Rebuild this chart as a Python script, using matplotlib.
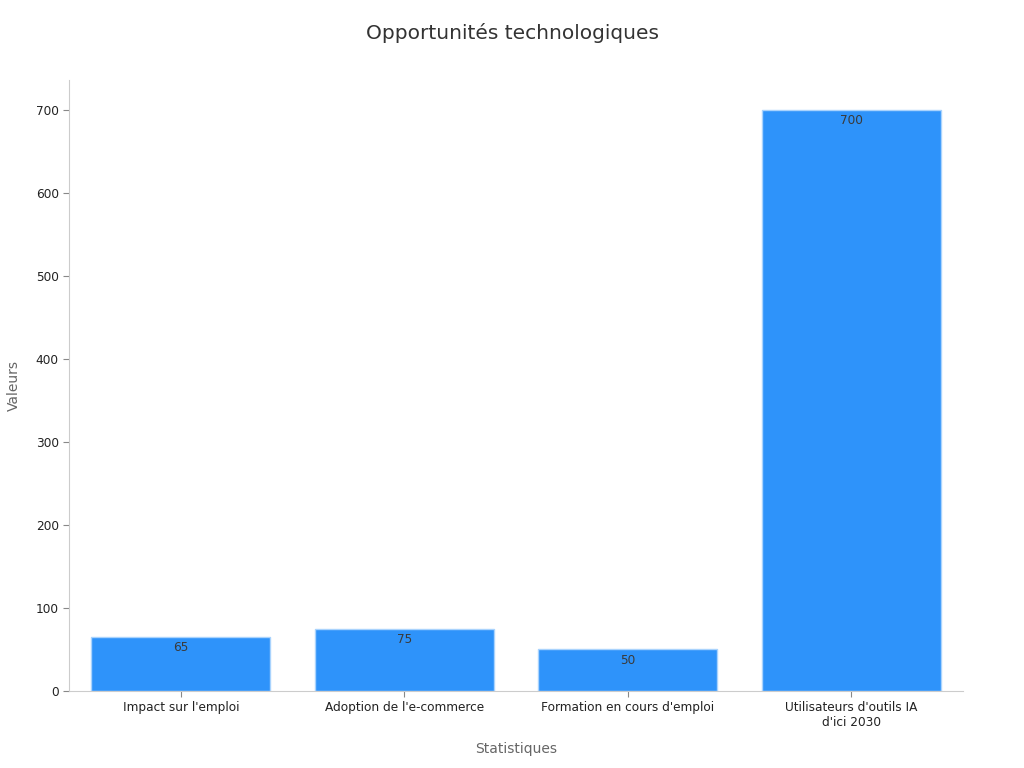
import numpy as np
from matplotlib import pyplot as plt

categories = [
    "Impact sur l'emploi",
    "Adoption de l'e-commerce",
    "Formation en cours d'emploi",
    "Utilisateurs d'outils IA\nd'ici 2030",
]
values = [65, 75, 50, 700]

plt.rcParams["font.family"] = ["DejaVu Sans"]

fig = plt.figure(figsize=(10.24, 7.68), dpi=100)
ax = fig.add_axes([0.0675, 0.1003, 0.873, 0.7957])

x = np.arange(len(categories))
bars = ax.bar(x, values, width=0.8, color="#2E93FA", edgecolor="#A9D3FD", linewidth=1)

for b, v in zip(bars, values):
    ax.text(b.get_x() + b.get_width() / 2, v - 5, str(v),
            ha="center", va="top", fontsize=8.7, color="#3a3a3a")

ax.set_xlim(-0.5, 3.5)
ax.set_ylim(0, 736)
ax.set_xticks(x)
ax.set_xticklabels(categories, fontsize=8.7, color="#222222")
ax.set_yticks(np.arange(0, 701, 100))
ax.tick_params(axis="y", labelsize=8.7, colors="#222222", length=4, color="#888888")
ax.tick_params(axis="x", length=4, color="#888888")

for s in ["top", "right"]:
    ax.spines[s].set_visible(False)
for s in ["left", "bottom"]:
    ax.spines[s].set_color("#cccccc")

ax.set_xlabel("Statistiques", fontsize=10, color="#666666", labelpad=9)
ax.set_ylabel("Valeurs", fontsize=10, color="#666666", labelpad=11)
fig.suptitle("Opportunités technologiques", fontsize=14.5, color="#333333", y=0.9695)

fig.savefig("out.png", dpi=100)
plt.close("all")
